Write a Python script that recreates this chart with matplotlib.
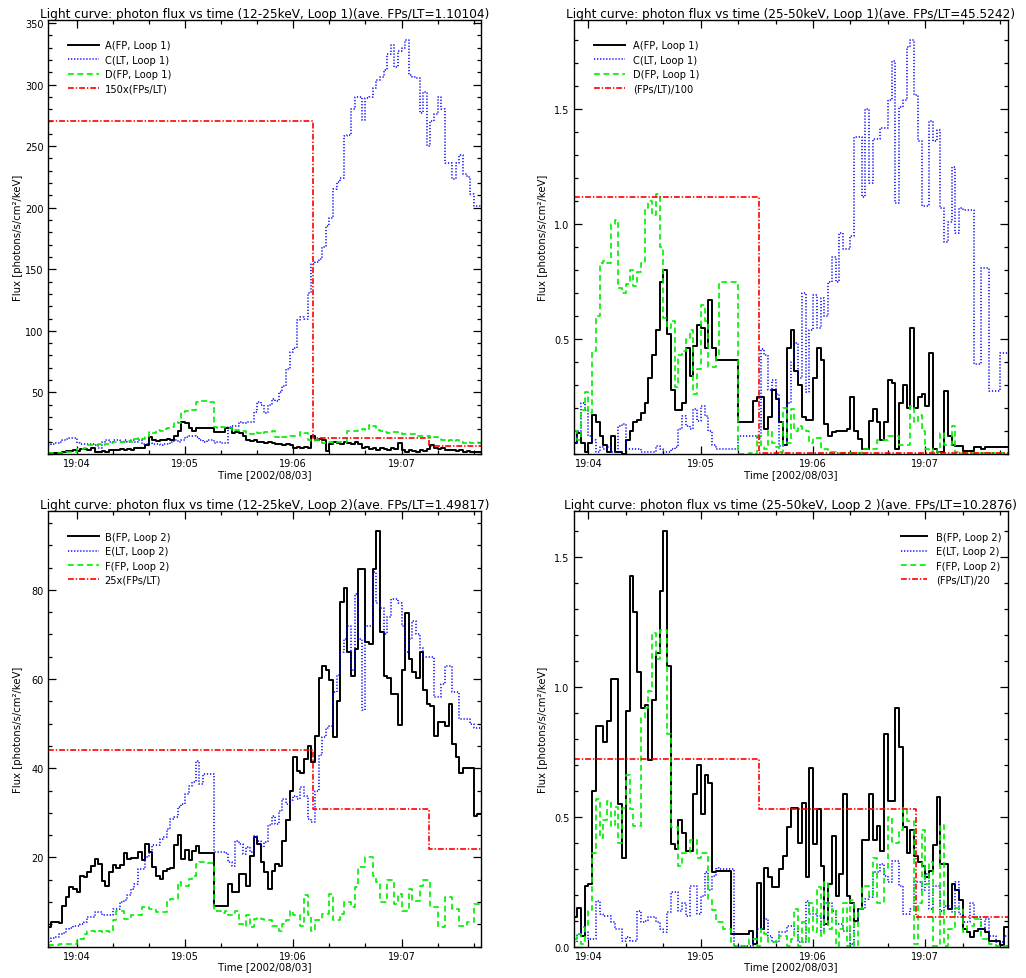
import numpy as np
import matplotlib
matplotlib.use("Agg")
import matplotlib.pyplot as plt
from matplotlib.ticker import MultipleLocator, FixedLocator, FuncFormatter

plt.rcParams["font.family"] = ["DejaVu Sans"]
plt.rcParams["lines.scale_dashes"] = False

# ---------------- data (time in s after 19:00:00, 2 s bins) ----------------
BIN = 2.0
START_A = 224.0   # 19:03:44 (12-25 keV panels)
START_B = 232.0   # 19:03:52 (25-50 keV panels)
END_T = 464.0     # 19:07:44

# Panel 1: 12-25 keV, Loop 1
A_12 = [0.5,0.8,1,1,1.5, 2.5,2.5,3,2.5, 4,4,3.5,5, 2,2,2.5,2, 3,3.5,3,4,3.5,4,3.5,
        5,4.5,5, 7,13.5,11, 10.5,11, 11.5,12,11.5, 14.5,19, 26,25,21.5,18.5,21.5,
        21.5,21.5,21.5,21.5, 17.5,17.5,18, 21.5,21, 17,17.5,17,15, 11,10.5,11,10,
        9.5,9,9.5,9,8.5, 8,7.5,8,7, 5,6,4.5,5.5,4.5, 15, 11,12,11, 2.5,
        8,10,9,8.5,10,9,8,9.5,8, 5,6,4,5,3.5,5,4,3.5,5,4, 9, 3,2,3,2.5,2,3,2.5,
        4,7, 5,4,4.5,3,3.5,3,2.5,3,2,2.5,1.5,2,1.5]
C_12 = [7,8,9,10,11,12,13,13, 9,8,8,8,8,7,5, 10,11,10,11,11,10,11,10,11,10,11,
        8,8,9,8,8,7,8,8, 10,11,10,11, 14,15,15,14, 11,10,11,11, 9,10,9,9,
        22,23,23, 26,25,26,26, 34,42,40, 33,40,45,43, 50,55, 69, 83,86,
        109,111,110, 131, 154,156,158, 168,185,192,215, 221,224, 258,259, 280,
        290,290, 271, 289,290, 297, 304,306, 312, 325,332, 314,327, 330,336,
        308,306,305, 277,294,250,270,276,290,280,236,236,223,236,243,227,225,211,201,201]
D_12 = [0.5,0.5,1,1,1,1.5,1.5,2, 4,4,4.5, 7,7.5,7,8,7.5,8, 9,9.5,10,9.5,10,10.5,10,
        12,13,12.5,14, 17.5,17, 19.5,19,20, 21.5,22, 26,25.5, 34,35,35.5,36,
        42,43,43,43,42.5, 22,21.5,22,21.5,21, 19,19.5,18.5,19, 17,16.5,17.5,17,16,17.5,
        18,19, 13.5,13,14,13.5, 14.5,15,14.5, 17.5,17, 11,10.5,11,
        9.5,9,10,9.5,9,9.5,10,9.5, 18.5,19,18.5, 19.5,20,19.5, 23.5,23, 19.5,19,
        17.5,17,17.5,18,17, 16,16.5,16,16, 15,14.5,15,15, 13,13.5,12.5,
        11,10.5,11,10.5,11, 9.5,9,9.5,9,9,9]
RATIO_1_EDGES = [224, 371, 435, 464]
RATIO_1_12 = [1.803, 0.0847, 0.0453]
SCALE_1_12 = 150

# Panel 2: 25-50 keV, Loop 1
A_25 = [0.05,0.09,0.05,0.01,0.05,0.17,0.14,0.08,0.04,0.01,
        0.08,0.01,0.01,0.0,0.06,0.10,0.14,0.15,0.18,0.22,
        0.33,0.43,0.54,0.75,0.80,0.52,0.28,0.19,0.19,0.22,
        0.46,0.34,0.47,0.56,0.55,0.46,0.67,0.46,0.41,0.41,
        0.41,0.41,0.41,0.41,0.14,0.14,0.14,0.14,0.23,0.25,
        0.25,0.11,0.16,0.28,0.24,0.14,0.04,0.46,0.54,0.36,
        0.30,0.16,0.15,0.15,0.33,0.46,0.41,0.13,0.08,0.094,
        0.10,0.10,0.10,0.11,0.25,0.10,0.065,0.02,0.02,0.145,
        0.195,0.14,0.06,0.14,0.32,0.31,0.02,0.22,0.30,0.20,
        0.55,0.20,0.25,0.26,0.21,0.44,0.02,0.01,0.01,0.275,
        0.08,0.04,0.036,0.036,0.015,0.015,0.015,0.03,0.03,0.02,
        0.03,0.03,0.03,0.03,0.03,0.03]
C_25 = [0.05,0.10,0.22,0.19,0.08,0.06,0.01,0.03,0.02,0.03,
        0.01,0.01,0.12,0.13,0.02,0.02,0.02,0.02,0.01,0.01,
        0.01,0.01,0.035,0.02,0.01,0.01,0.02,0.03,0.11,0.167,
        0.12,0.11,0.196,0.145,0.21,0.167,0.10,0.04,0.02,0.02,
        0.02,0.02,0.02,0.02,0.08,0.08,0.08,0.08,0.08,0.07,
        0.456,0.43,0.28,0.32,0.26,0.036,0.04,0.22,0.40,0.485,
        0.33,0.70,0.27,0.54,0.69,0.55,0.68,0.60,0.75,0.855,
        0.75,0.96,0.89,0.89,0.95,1.38,1.38,1.12,1.50,1.18,
        1.37,1.37,1.42,1.42,1.54,1.71,1.09,1.51,1.54,1.77,
        1.80,1.56,1.36,1.08,1.08,1.45,1.36,1.41,1.07,0.92,
        1.01,1.25,0.96,1.07,1.06,1.06,1.06,0.39,0.39,0.81,
        0.81,0.275,0.275,0.275,0.44,0.44]
D_25 = [0.10,0.06,0.19,0.27,0.18,0.45,0.60,0.83,0.84,0.83,
        1.00,1.02,0.72,0.70,0.74,0.80,0.73,0.79,0.83,1.07,
        1.10,1.04,1.13,0.90,0.59,0.55,0.58,0.29,0.43,0.45,
        0.50,0.54,0.26,0.37,0.65,0.58,0.38,0.38,0.42,0.746,
        0.746,0.746,0.746,0.746,0.0,0.0,0.0,0.005,0.0,0.08,
        0.03,0.02,0.10,0.05,0.03,0.01,0.20,0.05,0.195,0.10,
        0.12,0.11,0.10,0.05,0.07,0.07,0.02,0.02,0.01,0.01,
        0.005,0.005,0.005,0.005,0.005,0.005,0.005,0.02,0.02,0.02,
        0.02,0.06,0.06,0.06,0.08,0.08,0.08,0.04,0.04,0.04,
        0.21,0.14,0.17,0.10,0.02,0.01,0.02,0.01,0.09,0.04,
        0.04,0.12,0.01,0.005,0.005,0.005,0.005,0.005,0.005,0.005,
        0.005,0.005,0.005,0.005,0.005,0.005]
RATIO_1_EDGES_25 = [232, 331.3, 464]
RATIO_1_25 = [111.9, 0.6]
SCALE_1_25 = 1 / 100

# Panel 3: 12-25 keV, Loop 2
B_12 = [4.5,5.6,5.6,5.3,9.2,11.1,13.3,13,12.2,15.9,
        15.6,16.7,18.2,19.7,18.6,14.8,13.7,16.7,18.3,17.6,
        18.3,21,19.7,19.8,19.8,21.2,19.5,23,21.2,17.8,
        15.9,15.2,17,17.5,17.6,22.7,25.1,19.7,21.6,19.5,
        21.4,22.5,21.1,21,21,21,9.1,9.1,9.1,9.1,
        14,12.2,12.2,16.3,16.3,13.7,20.4,24.5,23,18.9,
        16.7,13,17,18.6,18,23.8,28.5,35,42.5,39.5,
        39,42,45,41.4,47.3,60.3,63,62,59.7,47,
        55.2,77.2,80.4,66,60.8,66.8,84.6,84.6,68.3,67.9,
        84.6,93.1,70.5,60.8,60.3,56.6,56.6,49.6,62.1,74.8,
        64.5,61.7,60.3,66,57.5,54.4,54,47.3,50.3,50.3,
        49.5,54.4,45.5,42.5,39,40,40,40,29.4,29.8]
E_12 = [1,2,2.1,2.9,3,4,4.2,4.7,4.7,5,
        5.5,6.6,6.6,7.7,7.7,7,7,7.2,8.5,8.5,
        10,10.5,11.5,13,14.1,17.4,17.4,20.1,21,22.7,
        22.7,24.2,24.5,26.4,28.7,29,31.3,32,34.2,36,
        36.9,41.7,36.5,38.8,38.8,38.8,21.2,21.2,21.2,21,
        18.9,18.2,23.8,23,20.8,22.3,21.2,24.9,23.8,22.3,
        23.5,27.2,29.4,27.5,30.5,33.1,32,33,33.9,33.1,
        35.8,33.9,28.7,27.9,35,43,47,49,49.5,57,
        61,66,69,72,62,79,69,53,72,72,
        84,77,76,70,74,78,78,77,72,66,
        69,73,70,67,65,65,65,56,56,59,
        63,63,57,57,51,51,51,50,49,49]
F_12 = [0.3,0.3,0.3,0.6,0.6,0.6,0.6,0.6,1.7,1.7,
        2.9,3.6,3.6,3.3,3.6,3.3,3.6,3.3,5.9,8.1,
        8.1,6.2,6.2,7,7,7,8.9,8.9,8.5,8.5,
        7.7,7.7,7.7,10,10.7,10.7,14.5,13.7,13.7,15.2,
        15.9,18.6,18.9,18.9,18.7,18.7,8.1,8.1,7.5,8.1,
        7,7,8.1,5,4.7,7,4.5,6.2,6.5,6.2,
        5.9,5.9,4.7,4.7,3.6,5,6,8.1,7,7,
        4.7,11.5,7,3.6,5.9,5.9,7.4,7.4,11.8,5.9,
        5.9,7.4,10,10,8.9,13.3,17.8,17.8,20,20,
        15.9,14.5,10,10,14.9,14.9,9.6,11.8,8.1,8.1,
        13,10.3,10.3,13.7,14.9,14.9,8.9,8.9,4.4,4.4,
        11.1,11.1,8.5,8.5,4.7,4.7,5.5,5.5,9.6,9.6]
RATIO_2_EDGES = [224, 371, 435, 464]
RATIO_2_12 = [1.76, 1.236, 0.872]
SCALE_2_12 = 25

# Panel 4: 25-50 keV, Loop 2
B_25 = [0.113,0.15,0.04,0.235,0.24,0.6,0.85,0.85,0.79,0.87,
        1.03,1.03,0.55,0.34,0.91,1.43,1.29,1.06,0.92,0.93,
        0.72,0.95,1.13,1.37,1.60,1.08,0.395,0.376,0.49,0.44,
        0.37,0.37,0.59,0.70,0.51,0.66,0.63,0.286,0.29,0.29,
        0.29,0.29,0.05,0.05,0.05,0.05,0.05,0.06,0.01,0.245,
        0.07,0.305,0.27,0.23,0.23,0.30,0.35,0.46,0.535,0.535,
        0.40,0.555,0.27,0.69,0.395,0.53,0.31,0.087,0.24,0.427,
        0.196,0.28,0.59,0.196,0.17,0.10,0.145,0.41,0.41,0.59,
        0.41,0.465,0.37,0.82,0.56,0.56,0.92,0.77,0.46,0.36,
        0.45,0.35,0.325,0.31,0.27,0.29,0.39,0.575,0.32,0.32,
        0.145,0.24,0.22,0.18,0.068,0.055,0.036,0.06,0.068,0.068,
        0.055,0.023,0.023,0.023,0.006,0.074]
E_25 = [0.02,0.05,0.075,0.055,0.03,0.03,0.177,0.126,0.12,0.12,
        0.094,0.068,0.068,0.023,0.036,0.023,0.023,0.139,0.094,0.1,
        0.113,0.113,0.094,0.068,0.055,0.132,0.21,0.21,0.139,0.17,
        0.12,0.235,0.235,0.126,0.196,0.286,0.22,0.273,0.305,0.3,
        0.3,0.3,0.3,0.004,0.004,0.004,0.004,0.004,0.03,0.068,
        0.068,0.106,0.04,0.017,0.017,0.055,0.055,0.08,0.08,0.068,
        0.017,0.017,0.177,0.126,0.126,0.12,0.06,0.17,0.17,0.139,
        0.087,0.087,0.06,0.06,0.01,0.094,0.145,0.145,0.183,0.19,
        0.286,0.286,0.318,0.273,0.25,0.33,0.33,0.235,0.126,0.126,
        0.145,0.25,0.25,0.22,0.28,0.145,0.235,0.235,0.139,0.158,
        0.158,0.132,0.25,0.125,0.094,0.094,0.17,0.113,0.113,0.068,
        0.106,0.04,0.04,0.017,0.017,0.04]
F_25 = [0.03,0.05,0.01,0.08,0.14,0.36,0.57,0.42,0.49,0.56,
        0.465,0.54,0.40,0.535,0.66,0.53,0.465,0.465,0.88,0.92,
        0.985,1.21,1.11,1.22,1.22,0.82,0.46,0.46,0.31,0.36,
        0.36,0.41,0.41,0.34,0.36,0.36,0.18,0.14,0.094,0.094,
        0.068,0.068,0.017,0.004,0.004,0.004,0.004,0.03,0.03,0.004,
        0.068,0.05,0.017,0.017,0.03,0.04,0.04,0.004,0.03,0.145,
        0.004,0.094,0.02,0.17,0.055,0.23,0.04,0.25,0.068,0.145,
        0.004,0.068,0.17,0.004,0.18,0.004,0.145,0.235,0.235,0.196,
        0.34,0.17,0.17,0.305,0.5,0.40,0.40,0.45,0.535,0.485,
        0.485,0.01,0.17,0.45,0.24,0.325,0.004,0.004,0.47,0.004,
        0.068,0.068,0.15,0.15,0.055,0.08,0.08,0.106,0.106,0.03,
        0.03,0.01,0.01,0.004,0.004,0.004]
RATIO_2_EDGES_25 = [232, 331.3, 415, 464]
RATIO_2_25 = [14.44, 10.64, 2.26]
SCALE_2_25 = 1 / 20

TITLES = [
    "Light curve: photon flux vs time (12-25keV, Loop 1)(ave. FPs/LT=1.10104)",
    "Light curve: photon flux vs time (25-50keV, Loop 1)(ave. FPs/LT=45.5242)",
    "Light curve: photon flux vs time (12-25keV, Loop 2)(ave. FPs/LT=1.49817)",
    "Light curve: photon flux vs time (25-50keV, Loop 2 )(ave. FPs/LT=10.2876)",
]
LABELS = [
    ["A(FP, Loop 1)", "C(LT, Loop 1)", "D(FP, Loop 1)", "150x(FPs/LT)"],
    ["A(FP, Loop 1)", "C(LT, Loop 1)", "D(FP, Loop 1)", "(FPs/LT)/100"],
    ["B(FP, Loop 2)", "E(LT, Loop 2)", "F(FP, Loop 2)", "25x(FPs/LT)"],
    ["B(FP, Loop 2)", "E(LT, Loop 2)", "F(FP, Loop 2)", "(FPs/LT)/20"],
]
MAJOR_TIMES = [240, 300, 360, 420]

# ---------------- styles ----------------
STY_FP1 = dict(color="black", lw=1.4, ls="-")
STY_LT = dict(color="#0000ff", lw=1.1, ls=(0, (0.9, 1.3)))
STY_FP2 = dict(color="#00ee00", lw=1.2, ls=(0, (4.2, 2.6)))
STY_RAT = dict(color="#ff0000", lw=1.2, ls=(0, (4.2, 1.4, 1.0, 1.4)))

W, H = 1026, 979
fig = plt.figure(figsize=(W / 100, H / 100), dpi=100)

panels = [
    dict(rect=(47.7, 20.5, 433.3, 434.5), start=START_A, series=(A_12, C_12, D_12),
         redges=RATIO_1_EDGES, ratio=RATIO_1_12, scale=SCALE_1_12,
         yticks=[50, 100, 150, 200, 250, 300, 350], yminor=10, fmt="%d",
         leg=dict(loc="upper left", anchor=(0.047, 0.952), hl=3.1, tp=0.6)),
    dict(rect=(573.5, 20.5, 434.2, 434.5), start=START_B, series=(A_25, C_25, D_25),
         redges=RATIO_1_EDGES_25, ratio=RATIO_1_25, scale=SCALE_1_25,
         yticks=[0.5, 1.0, 1.5], yminor=0.1, fmt="%.1f",
         leg=dict(loc="upper left", anchor=(0.048, 0.952), hl=3.1, tp=0.85)),
    dict(rect=(47.7, 511.7, 433.3, 436.0), start=START_A, series=(B_12, E_12, F_12),
         redges=RATIO_2_EDGES, ratio=RATIO_2_12, scale=SCALE_2_12,
         yticks=[20, 40, 60, 80], yminor=5, fmt="%d",
         leg=dict(loc="upper left", anchor=(0.047, 0.952), hl=3.1, tp=0.6)),
    dict(rect=(573.5, 511.7, 434.2, 436.0), start=START_B, series=(B_25, E_25, F_25),
         redges=RATIO_2_EDGES_25, ratio=RATIO_2_25, scale=SCALE_2_25,
         yticks=[0.0, 0.5, 1.0, 1.5], yminor=0.1, fmt="%.1f",
         leg=dict(loc="upper right", anchor=(0.985, 0.952), hl=2.6, tp=0.9)),
]

time_fmt = FuncFormatter(lambda x, p: "19:%02d" % (int(round(x)) // 60))

for i, P in enumerate(panels):
    x0, y0, w, h = P["rect"]
    ax = fig.add_axes([x0 / W, 1 - (y0 + h) / H, w / W, h / H])
    handles = []
    for vals, sty in zip(P["series"], (STY_FP1, STY_LT, STY_FP2)):
        v = np.asarray(vals, dtype=float)
        edges = P["start"] + BIN * np.arange(len(v) + 1)
        ln, = ax.step(edges, np.append(v, v[-1]), where="post", **sty)
        handles.append(ln)
    r = np.asarray(P["ratio"], dtype=float) * P["scale"]
    re = np.asarray(P["redges"], dtype=float)
    ln, = ax.step(re, np.append(r, r[-1]), where="post", **STY_RAT)
    handles.append(ln)

    ymax = 1.05 * max(max(s) for s in P["series"])
    ax.set_xlim(P["start"], END_T)
    ax.set_ylim(0, ymax)

    ax.xaxis.set_major_locator(FixedLocator(MAJOR_TIMES))
    ax.xaxis.set_minor_locator(MultipleLocator(20))
    ax.xaxis.set_major_formatter(time_fmt)
    ax.yaxis.set_major_locator(FixedLocator(P["yticks"]))
    ax.yaxis.set_minor_locator(MultipleLocator(P["yminor"]))
    ax.yaxis.set_major_formatter(FuncFormatter(lambda y, p, f=P["fmt"]: f % y))
    ax.tick_params(which="both", direction="in", top=True, right=True,
                   labelsize=7, width=0.9, colors="black")
    ax.tick_params(which="major", length=5.5, pad=3)
    ax.tick_params(which="minor", length=2.8)
    for sp in ax.spines.values():
        sp.set_linewidth(1.0)

    ax.set_title(TITLES[i], fontsize=8.7, pad=2.0)
    ax.set_xlabel("Time [2002/08/03]", fontsize=7.3)
    ax.xaxis.set_label_coords(0.5, -0.034)
    ax.xaxis.label.set_va("top")
    ax.set_ylabel("Flux [photons/s/cm\u00b2/keV]", fontsize=7.3)
    ax.yaxis.set_label_coords(-0.058, 0.5)

    L = P["leg"]
    ax.legend(handles, LABELS[i], loc=L["loc"], bbox_to_anchor=L["anchor"],
              frameon=False, fontsize=7.1, handlelength=L["hl"], handletextpad=L["tp"],
              labelspacing=0.45, borderpad=0, borderaxespad=0)

fig.savefig("out.png", dpi=100)
